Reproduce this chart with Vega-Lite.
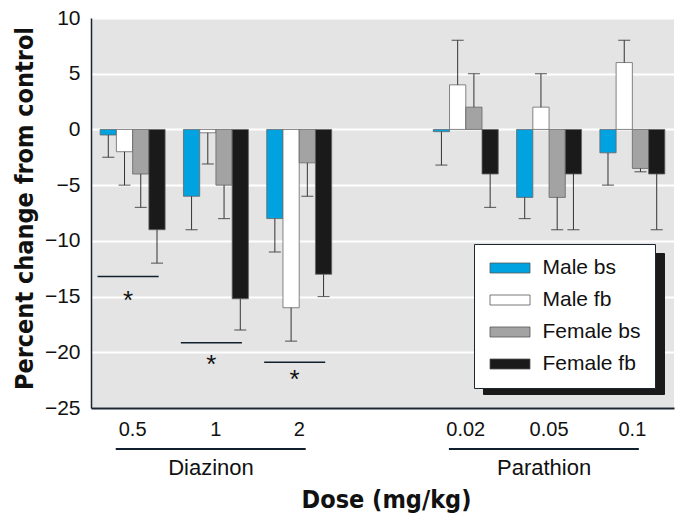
{
  "$schema": "https://vega.github.io/schema/vega-lite/v6.json",
  "width": 583,
  "height": 390,
  "autosize": {"type": "none"},
  "padding": {"left": 91, "top": 18, "right": 5, "bottom": 108},
  "background": "white",
  "config": {
    "view": {"fill": "#e4e4e4", "stroke": null},
    "font": "Liberation Sans",
    "axisX": {
      "labelExpr": "datum.value == 'gap' ? '' : datum.value",
      "ticks": false, "domainColor": "#1b2633", "domainWidth": 2,
      "labelFont": "Liberation Sans", "labelFontSize": 20, "labelColor": "#111", "labelPadding": 11, "labelAngle": 0,
      "titleFont": "DejaVu Sans Condensed, sans-serif", "titleFontSize": 25, "titleFontWeight": "bold",
      "titleX": 295, "titleY": 99, "titleBaseline": "alphabetic", "titleAlign": "center", "titleColor": "#111"
    },
    "axisY": {
      "ticks": false, "domainColor": "#1b2633", "domainWidth": 1.5,
      "gridColor": "white", "gridWidth": 2,
      "labelFont": "Liberation Sans", "labelFontSize": 21, "labelPadding": 11, "labelColor": "#111",
      "titleFont": "DejaVu Sans Condensed, sans-serif", "titleFontSize": 25, "titleFontWeight": "bold",
      "titleX": -59, "titleY": 190, "titleBaseline": "alphabetic", "titleAlign": "center", "titleColor": "#111"
    }
  },
  "datasets": {
    "bars": [
      {"dose": "0.5", "series": "Male bs", "value": -0.5, "err": -2.5},
      {"dose": "0.5", "series": "Male fb", "value": -2, "err": -5},
      {"dose": "0.5", "series": "Female bs", "value": -4, "err": -7},
      {"dose": "0.5", "series": "Female fb", "value": -9, "err": -12},
      {"dose": "1", "series": "Male bs", "value": -6, "err": -9},
      {"dose": "1", "series": "Male fb", "value": -0.3, "err": -3.1},
      {"dose": "1", "series": "Female bs", "value": -5, "err": -8},
      {"dose": "1", "series": "Female fb", "value": -15.2, "err": -18},
      {"dose": "2", "series": "Male bs", "value": -8, "err": -11},
      {"dose": "2", "series": "Male fb", "value": -16, "err": -19},
      {"dose": "2", "series": "Female bs", "value": -3, "err": -6},
      {"dose": "2", "series": "Female fb", "value": -13, "err": -15},
      {"dose": "0.02", "series": "Male bs", "value": -0.2, "err": -3.2},
      {"dose": "0.02", "series": "Male fb", "value": 4, "err": 8},
      {"dose": "0.02", "series": "Female bs", "value": 2, "err": 5},
      {"dose": "0.02", "series": "Female fb", "value": -4, "err": -7},
      {"dose": "0.05", "series": "Male bs", "value": -6.1, "err": -8},
      {"dose": "0.05", "series": "Male fb", "value": 2, "err": 5},
      {"dose": "0.05", "series": "Female bs", "value": -6.1, "err": -9},
      {"dose": "0.05", "series": "Female fb", "value": -4, "err": -9},
      {"dose": "0.1", "series": "Male bs", "value": -2.1, "err": -5},
      {"dose": "0.1", "series": "Male fb", "value": 6, "err": 8},
      {"dose": "0.1", "series": "Female bs", "value": -3.5, "err": -3.8},
      {"dose": "0.1", "series": "Female fb", "value": -4, "err": -9}
    ],
    "sig": [
      {"dose": "0.5", "line": -13.2, "star": -16.1},
      {"dose": "1", "line": -19.15, "star": -21.9},
      {"dose": "2", "line": -20.9, "star": -23.2}
    ],
    "groups": [
      {"compound": "Diazinon", "from": "0.5", "to": "2", "mid": "1"},
      {"compound": "Parathion", "from": "0.02", "to": "0.1", "mid": "0.05"}
    ]
  },
  "layer": [
    {
      "data": {"name": "bars"},
      "mark": {"type": "bar", "stroke": "#666", "strokeWidth": 0.8},
      "encoding": {
        "x": {
          "field": "dose", "type": "nominal", "title": "Dose (mg/kg)",
          "scale": {"domain": ["0.5", "1", "2", "gap", "0.02", "0.05", "0.1"], "paddingInner": 0.22, "paddingOuter": 0.11}
        },
        "xOffset": {"field": "series", "type": "nominal", "scale": {"domain": ["Male bs", "Male fb", "Female bs", "Female fb"]}},
        "y": {
          "field": "value", "type": "quantitative", "title": "Percent change from control",
          "scale": {"domain": [-25, 10], "nice": false},
          "axis": {"values": [-25, -20, -15, -10, -5, 0, 5, 10]}
        },
        "fill": {
          "field": "series", "type": "nominal",
          "scale": {"domain": ["Male bs", "Male fb", "Female bs", "Female fb"], "range": ["#00a3e0", "#ffffff", "#a3a3a3", "#1a1a1a"]},
          "legend": {
            "title": null, "orient": "none", "legendX": 383, "legendY": 226,
            "fillColor": "white", "strokeColor": "#1b2633", "padding": 13.5,
            "symbolType": "M-2,-0.5H2V0.5H-2Z", "symbolSize": 400, "symbolOffset": 12,
            "symbolStrokeColor": "#555", "symbolStrokeWidth": 0.8,
            "labelFont": "Liberation Sans", "labelFontSize": 21, "labelColor": "#111",
            "labelOffset": 22, "rowPadding": 10, "zindex": 1
          }
        }
      }
    },
    {
      "data": {"name": "bars"},
      "mark": {"type": "rule", "color": "#333", "strokeWidth": 1},
      "encoding": {
        "x": {"field": "dose", "type": "nominal", "title": "Dose (mg/kg)"},
        "xOffset": {"field": "series", "type": "nominal"},
        "y": {"field": "value", "type": "quantitative", "title": "Percent change from control"},
        "y2": {"field": "err"},
        "opacity": {
          "field": "series", "type": "ordinal",
          "scale": {"range": [1, 1]},
          "legend": {
            "title": null, "orient": "none", "legendX": 392, "legendY": 235,
            "fillColor": "#1a1a1a", "strokeColor": "#1a1a1a", "padding": 13.5,
            "symbolType": "M-2,-0.5H2V0.5H-2Z", "symbolSize": 400, "symbolOffset": 12, "symbolOpacity": 0,
            "labelExpr": "''",
            "labelFont": "Liberation Sans", "labelFontSize": 21, "labelColor": "#1a1a1a", "labelOpacity": 0,
            "labelOffset": 120, "rowPadding": 10, "zindex": 0
          }
        }
      }
    },
    {
      "data": {"name": "bars"},
      "mark": {"type": "tick", "color": "#333", "size": 12, "thickness": 1.2},
      "encoding": {
        "x": {"field": "dose", "type": "nominal", "title": "Dose (mg/kg)"},
        "xOffset": {"field": "series", "type": "nominal"},
        "y": {"field": "err", "type": "quantitative", "title": "Percent change from control"}
      }
    },
    {
      "mark": {"type": "rule", "color": "#0b2f4a", "strokeWidth": 1.5},
      "encoding": {"y": {"datum": 0, "type": "quantitative", "title": "Percent change from control"}}
    },
    {
      "data": {"name": "sig"},
      "mark": {"type": "rule", "color": "#10202e", "strokeWidth": 1.5},
      "encoding": {
        "x": {"field": "dose", "type": "nominal", "bandPosition": -0.04, "title": "Dose (mg/kg)"},
        "x2": {"field": "dose", "bandPosition": 0.9},
        "y": {"field": "line", "type": "quantitative", "title": "Percent change from control"}
      }
    },
    {
      "data": {"name": "sig"},
      "mark": {"type": "text", "text": "*", "fontSize": 26, "color": "#111", "baseline": "alphabetic"},
      "encoding": {
        "x": {"field": "dose", "type": "nominal", "bandPosition": 0.43, "title": "Dose (mg/kg)"},
        "y": {"field": "star", "type": "quantitative", "title": "Percent change from control"}
      }
    },
    {
      "data": {"name": "groups"},
      "mark": {"type": "rule", "color": "#10202e", "strokeWidth": 2},
      "encoding": {
        "x": {"field": "from", "type": "nominal", "bandPosition": 0.24, "title": "Dose (mg/kg)"},
        "x2": {"field": "to", "bandPosition": 0.6},
        "y": {"datum": -28.68, "type": "quantitative", "title": "Percent change from control"}
      }
    },
    {
      "data": {"name": "groups"},
      "mark": {"type": "text", "fontSize": 22, "color": "#111", "baseline": "alphabetic", "font": "Liberation Sans", "dx": -5},
      "encoding": {
        "x": {"field": "mid", "type": "nominal", "title": "Dose (mg/kg)"},
        "y": {"datum": -31.05, "type": "quantitative", "title": "Percent change from control"},
        "text": {"field": "compound"}
      }
    }
  ]
}
